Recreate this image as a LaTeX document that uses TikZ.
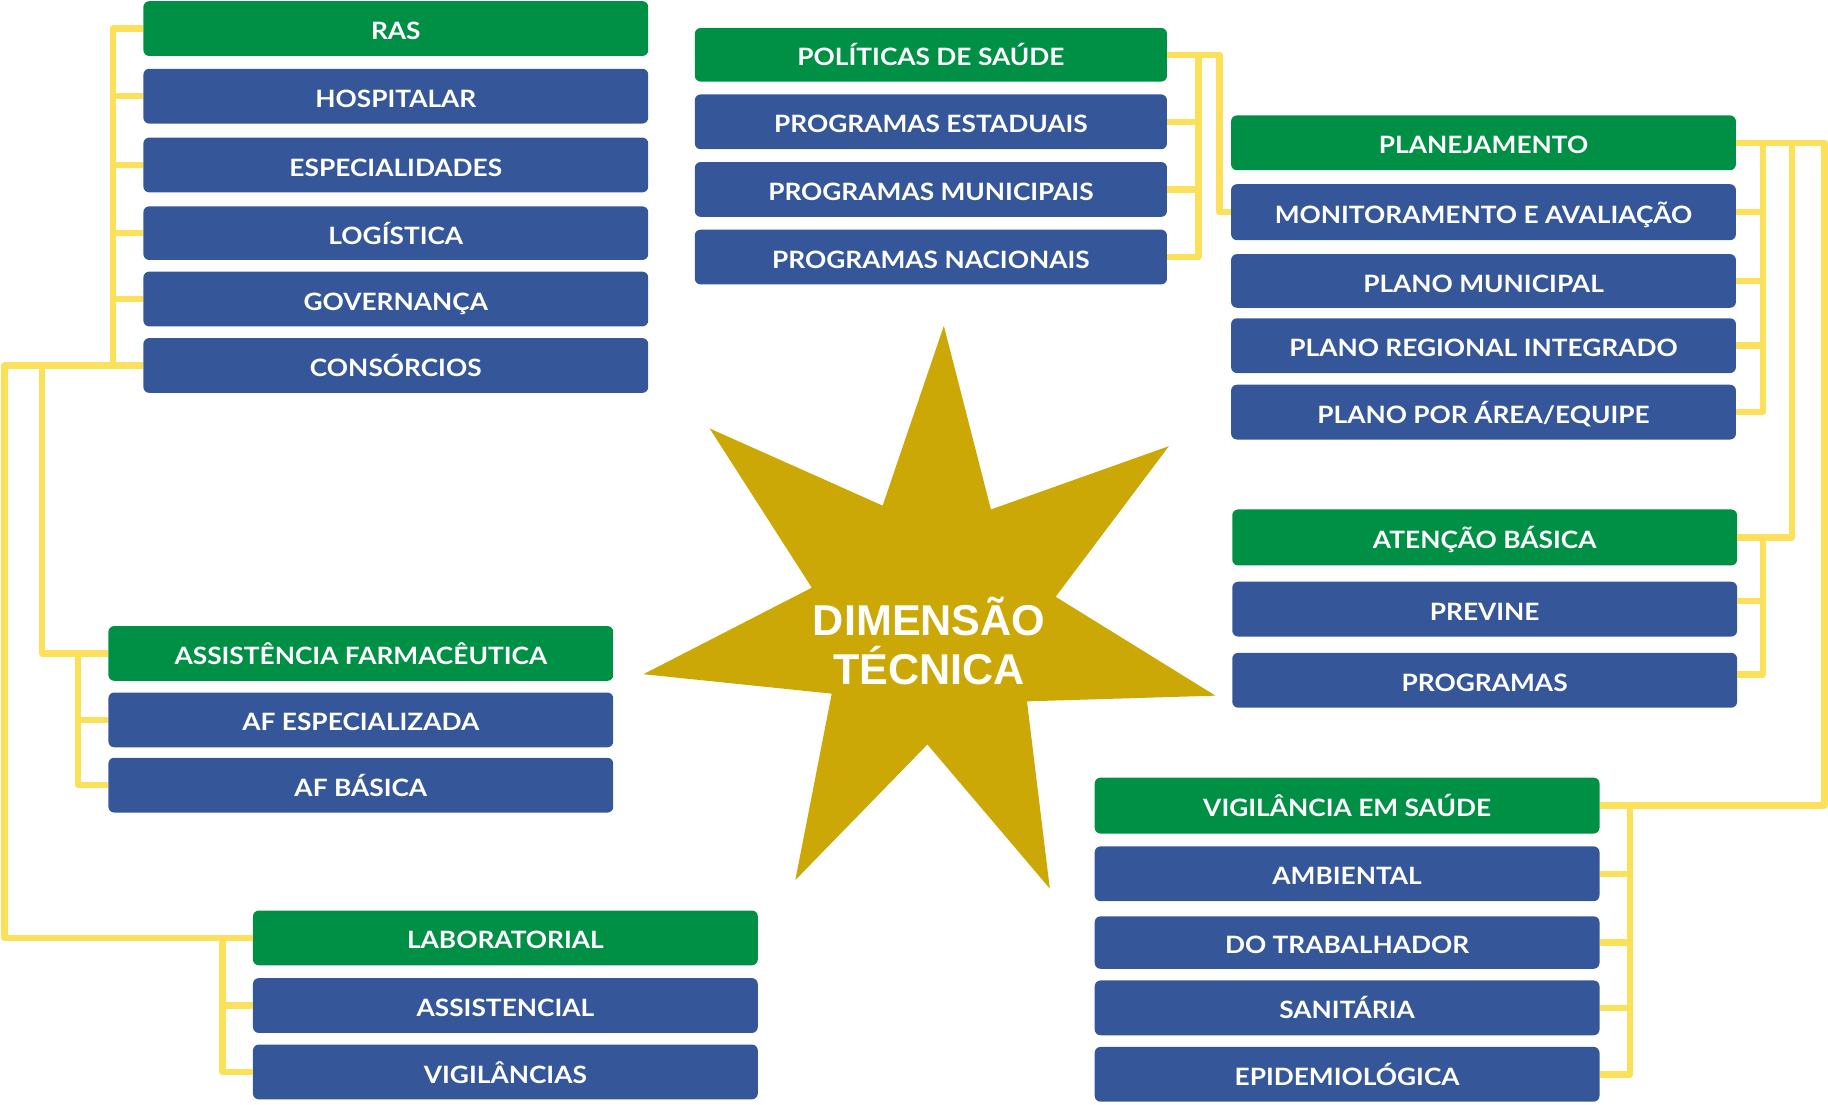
\documentclass[tikz,border=0pt]{standalone}
\usepackage{fontspec}
\setmainfont{Liberation Sans}
\newfontfamily\boxfamily{Lato}[FakeStretch=1.1]
\definecolor{gboxc}{RGB}{0,144,69}
\definecolor{bboxc}{RGB}{53,87,154}
\definecolor{linec}{RGB}{253,224,90}
\definecolor{starc}{RGB}{204,168,6}
\tikzset{
  basebox/.style={rounded corners=5pt, minimum height=47pt, inner sep=0pt, text=white,
    text height=19pt, text depth=0pt,
    font=\boxfamily\bfseries\fontsize{20.5}{23}\selectfont},
  gbox/.style={basebox, fill=gboxc},
  bbox/.style={basebox, fill=bboxc},
  conn/.style={draw=linec, line width=5.5pt, line join=round},
}
\begin{document}
\begin{tikzpicture}[x=1pt,y=-1pt]
\useasboundingbox (0,0) rectangle (1568,947);
% bus coordinates
\coordinate (bA) at (97,0);
\coordinate (bL) at (4,0);
\coordinate (bB) at (36,0);
\coordinate (bAF) at (67,0);
\coordinate (bLab) at (191,0);
\coordinate (bPol) at (1028,0);
\coordinate (bPol2) at (1046,0);
\coordinate (bPlan) at (1512,0);
\coordinate (bPlan2) at (1537,0);
\coordinate (bR) at (1565,0);
\coordinate (bAt) at (1512,0);
\coordinate (bVig) at (1398,0);

% star
\fill[starc] (809.6,279.5) -- (850,437) -- (1002.6,382.7) -- (905.5,511.9) -- (1042.6,596.7)
  -- (880.9,601.6) -- (900.5,762.2) -- (795.5,638.6) -- (682.2,754.9) -- (713.4,595)
  -- (551.9,578.3) -- (696.3,504.1) -- (608.7,367.5) -- (757.1,433.7) -- cycle;
\node[text=white, font=\bfseries\fontsize{37}{42}\selectfont, align=center] (title) at (797,550) {DIMENSÃO\\TÉCNICA};

% left top group
\node[gbox, minimum width=433pt, minimum height=47pt] (ras) at (339.5,24.5) {RAS};
\node[bbox, minimum width=433pt] (hosp) at (339.5,82.5) {HOSPITALAR};
\node[bbox, minimum width=433pt] (espec) at (339.5,141.5) {ESPECIALIDADES};
\node[bbox, minimum width=433pt, minimum height=46pt] (log) at (339.5,200) {LOGÍSTICA};
\node[bbox, minimum width=433pt] (gov) at (339.5,256.5) {GOVERNANÇA};
\node[bbox, minimum width=433pt] (cons) at (339.5,313.5) {CONSÓRCIOS};

% AF group
\node[gbox, minimum width=433pt] (af) at (309.5,560.5) {ASSISTÊNCIA FARMACÊUTICA};
\node[bbox, minimum width=433pt] (afe) at (309.5,617.5) {AF ESPECIALIZADA};
\node[bbox, minimum width=433pt] (afb) at (309.5,673.5) {AF BÁSICA};

% LAB group
\node[gbox, minimum width=433pt] (lab) at (433.5,804.5) {LABORATORIAL};
\node[bbox, minimum width=433pt] (ass) at (433.5,862.5) {ASSISTENCIAL};
\node[bbox, minimum width=433pt] (vigs) at (433.5,919.5) {VIGILÂNCIAS};

% POL group
\node[gbox, minimum width=405pt, minimum height=46pt] (pol) at (798.5,47) {POLÍTICAS DE SAÚDE};
\node[bbox, minimum width=405pt] (est) at (798.5,104.5) {PROGRAMAS ESTADUAIS};
\node[bbox, minimum width=405pt] (mun) at (798.5,162.5) {PROGRAMAS MUNICIPAIS};
\node[bbox, minimum width=405pt] (nac) at (798.5,220.5) {PROGRAMAS NACIONAIS};

% PLAN group
\node[gbox, minimum width=433pt] (plan) at (1272.5,122.5) {PLANEJAMENTO};
\node[bbox, minimum width=433pt, minimum height=48pt] (mon) at (1272.5,182) {MONITORAMENTO E AVALIAÇÃO};
\node[bbox, minimum width=433pt, minimum height=46pt] (pmun) at (1272.5,241) {PLANO MUNICIPAL};
\node[bbox, minimum width=433pt] (preg) at (1272.5,296.5) {PLANO REGIONAL INTEGRADO};
\node[bbox, minimum width=433pt] (parea) at (1272.5,353.5) {PLANO POR ÁREA/EQUIPE};

% ATEN group
\node[gbox, minimum width=433pt, minimum height=48pt] (aten) at (1273.5,461) {ATENÇÃO BÁSICA};
\node[bbox, minimum width=433pt] (prev) at (1273.5,522.5) {PREVINE};
\node[bbox, minimum width=433pt] (prog) at (1273.5,583.5) {PROGRAMAS};

% VIG group
\node[gbox, minimum width=433pt, minimum height=48pt] (vig) at (1155.5,691) {VIGILÂNCIA EM SAÚDE};
\node[bbox, minimum width=433pt] (amb) at (1155.5,749.5) {AMBIENTAL};
\node[bbox, minimum width=433pt, minimum height=45pt] (trab) at (1155.5,808.5) {DO TRABALHADOR};
\node[bbox, minimum width=433pt] (san) at (1155.5,864.5) {SANITÁRIA};
\node[bbox, minimum width=433pt] (epi) at (1155.5,921.5) {EPIDEMIOLÓGICA};

% connectors: left top
\draw[conn] (ras.west) -| (bA |- cons.west);
\foreach \n in {hosp,espec,log,gov} \draw[conn] (\n.west) -- (\n.west -| bA);
\draw[conn] (cons.west) -| (bL |- lab.west) -- (lab.west);
\draw[conn] (cons.west -| bB) |- (af.west);
% AF
\draw[conn] (af.west -| bAF) |- (afb.west);
\draw[conn] (afe.west) -- (afe.west -| bAF);
% LAB
\draw[conn] (lab.west -| bLab) |- (vigs.west);
\draw[conn] (ass.west) -- (ass.west -| bLab);
% POL
\draw[conn] (pol.east) -| (bPol2 |- mon.west) -- (mon.west);
\draw[conn] (pol.east -| bPol) |- (nac.east);
\foreach \n in {est,mun} \draw[conn] (\n.east) -- (\n.east -| bPol);
% PLAN
\draw[conn] (plan.east) -| (bR |- vig.east) -- (vig.east);
\draw[conn] (plan.east -| bPlan2) |- (aten.east);
\draw[conn] (plan.east -| bPlan) |- (parea.east);
\foreach \n in {mon,pmun,preg} \draw[conn] (\n.east) -- (\n.east -| bPlan);
% ATEN
\draw[conn] (aten.east -| bAt) |- ([yshift=5pt]prog.east);
\draw[conn] ([yshift=7pt]prev.east) -- ([yshift=7pt]prev.east -| bAt);
% VIG
\draw[conn] (vig.east -| bVig) |- (epi.east);
\foreach \n in {amb,trab,san} \draw[conn] (\n.east) -- (\n.east -| bVig);
\end{tikzpicture}
\end{document}
